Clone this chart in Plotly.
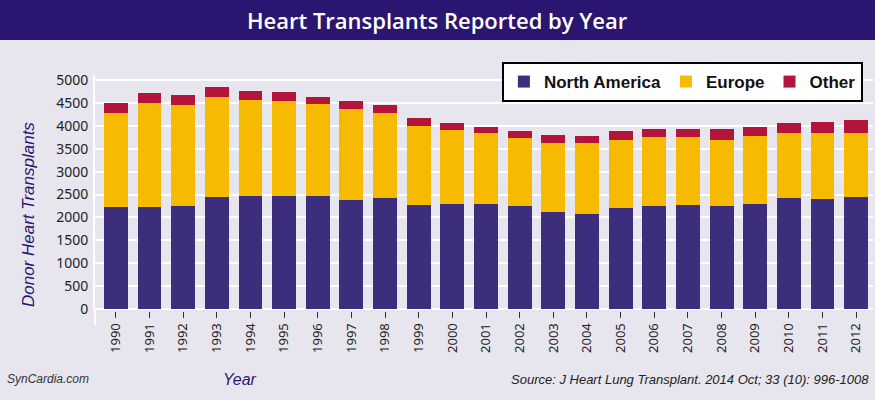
import plotly.graph_objects as go

# values
years = [str(y) for y in range(1990, 2013)]
north_america = [2220, 2225, 2260, 2450, 2470, 2470, 2460, 2380, 2430, 2275, 2305, 2305,
                 2250, 2125, 2080, 2210, 2260, 2275, 2240, 2300, 2415, 2395, 2445]
europe = [2065, 2263, 2184, 2183, 2088, 2076, 2022, 1994, 1856, 1720, 1603, 1538,
          1493, 1507, 1538, 1480, 1496, 1481, 1458, 1472, 1428, 1450, 1398]
other = [210, 217, 225, 217, 203, 195, 153, 166, 166, 166, 159, 137,
         152, 174, 152, 189, 166, 181, 232, 196, 224, 239, 282]
y_ticks = list(range(0, 5001, 500))

BG = "#e7e6ee"
PURPLE = "#2a1670"
SANS = "Liberation Sans, Arial, sans-serif"

fig = go.Figure()
fig.add_trace(go.Bar(x=years, y=north_america, name="North America", marker_color="#3c2e7d"))
fig.add_trace(go.Bar(x=years, y=europe, name="Europe", marker_color="#f6bb00"))
fig.add_trace(go.Bar(x=years, y=other, name="Other", marker_color="#b4143a"))

fig.update_traces(marker_line_width=0)

# plot area: x 95..873 px, y 75..311 px
fig.update_layout(
    width=875,
    height=400,
    margin=dict(l=95, r=2, t=75, b=89),
    barmode="stack",
    bargap=0.29,
    paper_bgcolor=BG,
    plot_bgcolor=BG,
    showlegend=True,
    legend=dict(
        orientation="h",
        x=0.523, y=1.055, xanchor="left", yanchor="top",
        bgcolor="white", bordercolor="black", borderwidth=2,
        font=dict(family=SANS, size=17, color="#111", weight="bold"),
        itemwidth=30,
        traceorder="normal",
    ),
    xaxis=dict(
        type="category",
        range=[-0.62, 22.5],
        tickangle=-90,
        ticks="outside",
        ticklen=6,
        tickcolor="#333",
        tickwidth=1,
        tickfont=dict(family="Noto Sans, sans-serif", size=13, color="#222"),
        showgrid=False,
        showline=False,
        zeroline=False,
    ),
    yaxis=dict(
        range=[-40, 5108],
        tickvals=y_ticks,
        ticksuffix=" –",
        tickfont=dict(family="Noto Sans, sans-serif", size=14, color="#222"),
        gridcolor="white",
        gridwidth=2,
        zeroline=True,
        zerolinecolor="white",
        zerolinewidth=2,
        showline=True,
        linecolor="white",
        linewidth=2,
        ticklabelstandoff=2,
    ),
)

# title bar
fig.add_shape(type="rect", xref="paper", yref="paper", x0=-0.2, x1=1.1, y0=1.148, y1=1.4,
              fillcolor=PURPLE, line_width=0, layer="below")
fig.add_annotation(text="Heart Transplants Reported by Year", xref="paper", yref="paper",
                   x=0.4396, y=1.233, xanchor="center", yanchor="middle", showarrow=False,
                   font=dict(family="Open Sans, sans-serif", size=22, color="white", weight=600))

# y-axis line continues a little below zero
fig.add_shape(type="line", xref="paper", yref="paper", x0=0, x1=0, y0=0, y1=-0.06,
              line=dict(color="white", width=2))

fig.add_annotation(text="<i>Donor Heart Transplants</i>", xref="paper", yref="paper",
                   x=-0.0864, y=0.41, textangle=-90, showarrow=False,
                   xanchor="center", yanchor="middle",
                   font=dict(family=SANS, size=17, color=PURPLE))
fig.add_annotation(text="<i>Year</i>", xref="paper", yref="paper",
                   x=0.186, y=-0.29, xanchor="center", yanchor="middle", showarrow=False,
                   font=dict(family=SANS, size=16, color=PURPLE))
fig.add_annotation(text="<i>SynCardia.com</i>", xref="paper", yref="paper",
                   x=-0.116, y=-0.29, xanchor="left", yanchor="middle", showarrow=False,
                   font=dict(family=SANS, size=12, color="#333"))
fig.add_annotation(text="<i>Source: J Heart Lung Transplant. 2014 Oct; 33 (10): 996-1008</i>",
                   xref="paper", yref="paper", x=0.997, y=-0.29, xanchor="right",
                   yanchor="middle", showarrow=False,
                   font=dict(family=SANS, size=13, color="#222"))

fig.write_html("out.html", config={"displayModeBar": False},
               post_script="document.body.style.margin='0';")
